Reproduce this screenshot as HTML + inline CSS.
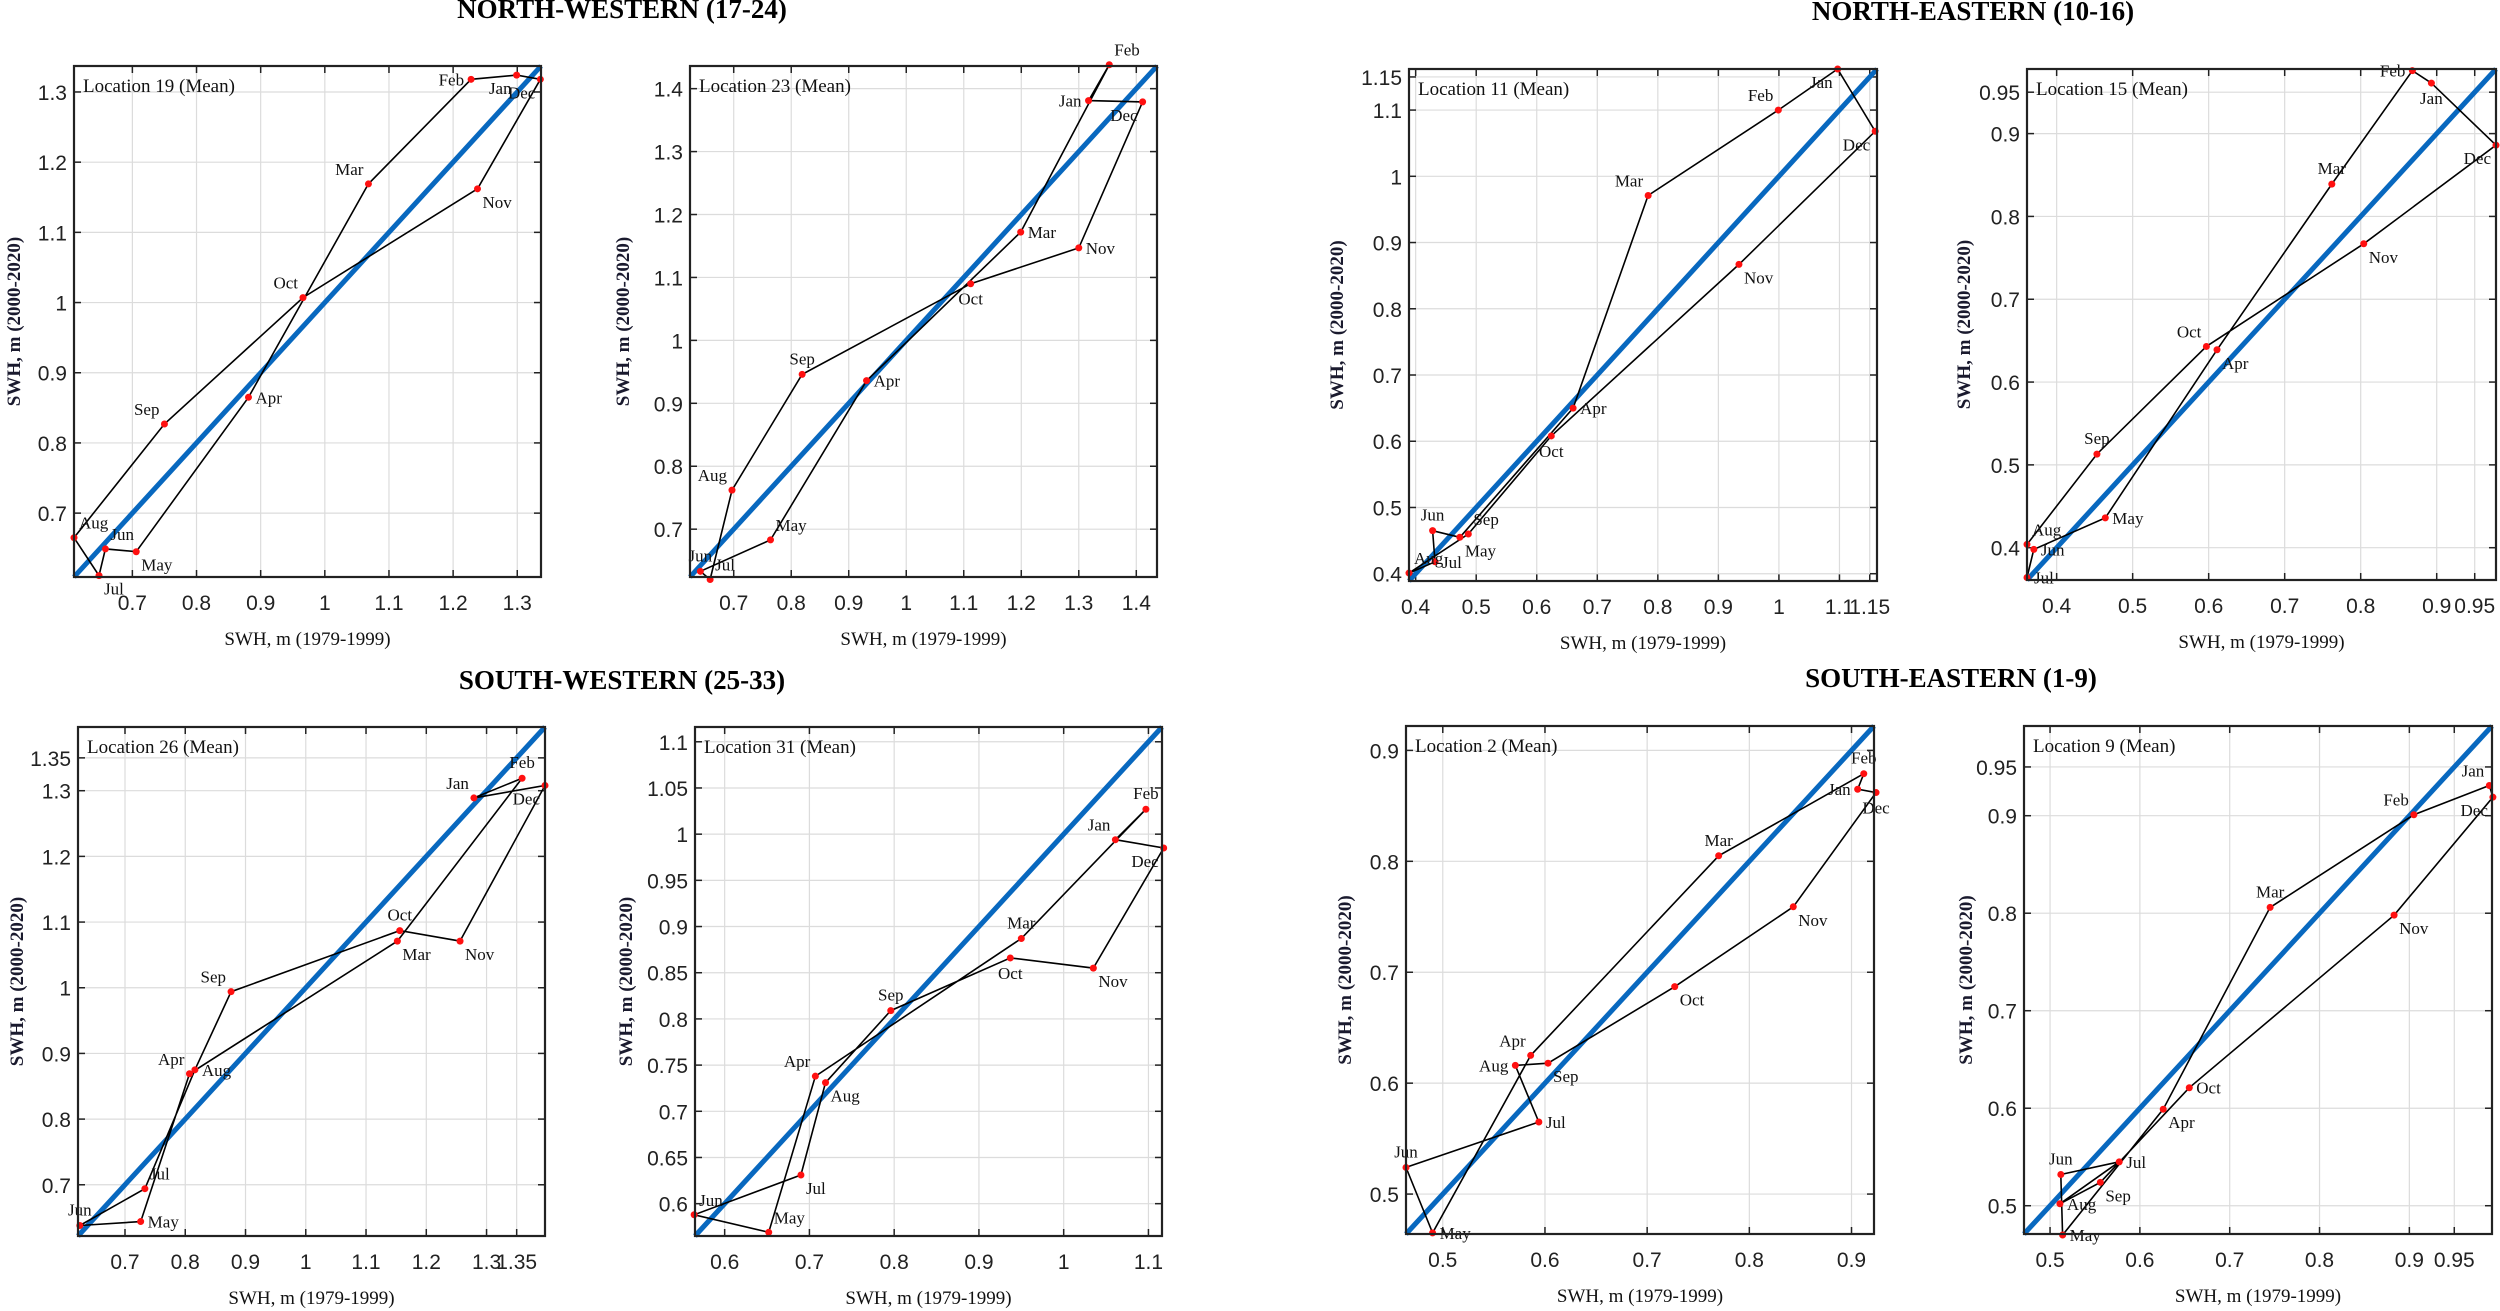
<!DOCTYPE html>
<html><head><meta charset="utf-8"><style>
html,body{margin:0;padding:0;background:#fff;}
svg{display:block;}
.tk{font-family:"Liberation Sans",sans-serif;font-size:21px;fill:#222;}
.mo{font-family:"Liberation Serif",serif;font-size:17px;fill:#111;}
.lc{font-family:"Liberation Serif",serif;font-size:19px;fill:#111;}
.xl{font-family:"Liberation Serif",serif;font-size:19px;fill:#111;}
.yl{font-family:"Liberation Serif",serif;font-size:19px;font-weight:bold;fill:#1a1a2e;}
.tt{font-family:"Liberation Serif",serif;font-size:27px;font-weight:bold;fill:#000;}
</style></head><body>
<svg id="fig" width="2500" height="1311" viewBox="0 0 2500 1311" xmlns="http://www.w3.org/2000/svg">
<text class="tt" x="622" y="18" text-anchor="middle">NORTH-WESTERN (17-24)</text>
<text class="tt" x="1973" y="20" text-anchor="middle">NORTH-EASTERN (10-16)</text>
<text class="tt" x="622" y="689" text-anchor="middle">SOUTH-WESTERN (25-33)</text>
<text class="tt" x="1951" y="687" text-anchor="middle">SOUTH-EASTERN (1-9)</text>
</svg>
<script>
const months = ['Jan','Feb','Mar','Apr','May','Jun','Jul','Aug','Sep','Oct','Nov','Dec'];

const loc19X = [1.299,1.228,1.068,0.881,0.706,0.658,0.648,0.609,0.750,0.966,1.238,1.336];
const loc19Y = [1.324,1.318,1.169,0.865,0.645,0.649,0.611,0.665,0.827,1.007,1.162,1.318];
const loc23X = [1.317,1.353,1.199,0.931,0.764,0.642,0.659,0.697,0.819,1.112,1.300,1.411];
const loc23Y = [1.381,1.438,1.172,0.936,0.683,0.633,0.620,0.762,0.946,1.090,1.147,1.379];
const loc11X = [1.097,0.999,0.784,0.660,0.473,0.428,0.432,0.389,0.487,0.624,0.934,1.159];
const loc11Y = [1.162,1.100,0.971,0.650,0.455,0.465,0.418,0.401,0.460,0.608,0.867,1.068];
const loc15X = [0.893,0.868,0.762,0.611,0.464,0.370,0.361,0.361,0.453,0.597,0.804,0.978];
const loc15Y = [0.961,0.976,0.839,0.639,0.436,0.398,0.364,0.404,0.513,0.643,0.767,0.886];
const loc26X = [1.279,1.359,1.152,0.807,0.726,0.625,0.733,0.816,0.876,1.156,1.256,1.397];
const loc26Y = [1.289,1.319,1.071,0.869,0.644,0.638,0.694,0.875,0.994,1.087,1.071,1.308];
const loc31X = [1.061,1.097,0.950,0.707,0.652,0.564,0.690,0.719,0.796,0.937,1.035,1.118];
const loc31Y = [0.994,1.027,0.887,0.738,0.569,0.588,0.631,0.731,0.809,0.866,0.855,0.985];
const loc2X  = [0.906,0.912,0.770,0.586,0.490,0.464,0.594,0.571,0.603,0.727,0.843,0.924];
const loc2Y  = [0.865,0.879,0.805,0.625,0.465,0.524,0.565,0.616,0.618,0.687,0.759,0.862];
const loc9X  = [0.989,0.905,0.745,0.626,0.514,0.512,0.577,0.511,0.556,0.655,0.883,0.993];
const loc9Y  = [0.931,0.901,0.806,0.599,0.470,0.532,0.545,0.502,0.524,0.621,0.798,0.919];

const ticks19 = [0.7,0.8,0.9,1,1.1,1.2,1.3];
const ticks23 = [0.7,0.8,0.9,1,1.1,1.2,1.3,1.4];
const ticks11 = [0.4,0.5,0.6,0.7,0.8,0.9,1,1.1,1.15];
const ticks15 = [0.4,0.5,0.6,0.7,0.8,0.9,0.95];
const ticks26 = [0.7,0.8,0.9,1,1.1,1.2,1.3,1.35];
const ticks31X = [0.6,0.7,0.8,0.9,1,1.1];
const ticks31Y = [0.6,0.65,0.7,0.75,0.8,0.85,0.9,0.95,1,1.05,1.1];
const ticks2 = [0.5,0.6,0.7,0.8,0.9];
const ticks9 = [0.5,0.6,0.7,0.8,0.9,0.95];

const panels = [
 {name:'location-19',label:'Location 19 (Mean)',box:[74,66,541,577],lo:0.609,hi:1.337,X:loc19X,Y:loc19Y,xt:ticks19,yt:ticks19,ylx:14,
  lab:['lb','L','la','R','rb','ra','rb','ra','la','la','rb','lb']},
 {name:'location-23',label:'Location 23 (Mean)',box:[690,66,1157,577],lo:0.624,hi:1.436,X:loc23X,Y:loc23Y,xt:ticks23,yt:ticks23,ylx:623,
  lab:['L','ra','R','R','ra','a','ra','la','a','b','R','lb']},
 {name:'location-11',label:'Location 11 (Mean)',box:[1409,69,1877,581],lo:0.389,hi:1.162,X:loc11X,Y:loc11Y,xt:ticks11,yt:ticks11,ylx:1337,
  lab:['lb','la','la','R','rb','a','R','ra','ra','b','rb','lb']},
 {name:'location-15',label:'Location 15 (Mean)',box:[2027,69,2496,580],lo:0.361,hi:0.978,X:loc15X,Y:loc15Y,xt:ticks15,yt:ticks15,ylx:1964,
  lab:['b','L','a','rb','R','R','R','ra','a','la','rb','lb']},
 {name:'location-26',label:'Location 26 (Mean)',box:[78,727,545,1236],lo:0.622,hi:1.397,X:loc26X,Y:loc26Y,xt:ticks26,yt:ticks26,ylx:17,
  lab:['la','a','rb','la','R','a','ra','R','la','a','rb','lb']},
 {name:'location-31',label:'Location 31 (Mean)',box:[695,727,1162,1236],lo:0.565,hi:1.116,X:loc31X,Y:loc31Y,xt:ticks31X,yt:ticks31Y,ylx:626,
  lab:['la','a','a','la','ra','ra','rb','rb','a','b','rb','lb']},
 {name:'location-2',label:'Location 2 (Mean)',box:[1406,726,1874,1234],lo:0.464,hi:0.922,X:loc2X,Y:loc2Y,xt:ticks2,yt:ticks2,ylx:1345,
  lab:['L','a','a','la','R','a','R','L','rb','rb','rb','b']},
 {name:'location-9',label:'Location 9 (Mean)',box:[2024,726,2492,1234],lo:0.471,hi:0.992,X:loc9X,Y:loc9Y,xt:ticks9,yt:ticks9,ylx:1966,
  lab:['la','la','a','rb','R','a','R','R','rb','R','rb','lb']}
];

const NS='http://www.w3.org/2000/svg';
const svg=document.getElementById('fig');
function mk(tag,attrs,parent){const e=document.createElementNS(NS,tag);for(const k in attrs)e.setAttribute(k,attrs[k]);(parent||svg).appendChild(e);return e;}
const OFF={la:[-5,-9,'end'],lb:[-5,19,'end'],ra:[5,-9,'start'],rb:[5,19,'start'],L:[-7,6,'end'],R:[7,6,'start'],a:[0,-10,'middle'],b:[0,21,'middle']};

panels.forEach(p=>{
  const [x0,y0,x1,y1]=p.box;
  const sx=v=>x0+(v-p.lo)/(p.hi-p.lo)*(x1-x0);
  const sy=v=>y1-(v-p.lo)/(p.hi-p.lo)*(y1-y0);
  const g=mk('g',{});
  
  
  mk('rect',{x:x0,y:y0,width:x1-x0,height:y1-y0,fill:'#fff'},g);
  p.xt.forEach(v=>{const x=sx(v);
    const gl=mk('line',{x1:x,y1:y0,x2:x,y2:y1,stroke:'#dcdcdc','stroke-width':1.2},g);
    
    mk('line',{x1:x,y1:y1,x2:x,y2:y1-7,stroke:'#222','stroke-width':1.5},g);
    mk('line',{x1:x,y1:y0,x2:x,y2:y0+7,stroke:'#222','stroke-width':1.5},g);
    const t=mk('text',{x:x,y:y1+33,'text-anchor':'middle',class:'tk'},g);t.textContent=String(v);
    
  });
  p.yt.forEach(v=>{const y=sy(v);
    const gl=mk('line',{x1:x0,y1:y,x2:x1,y2:y,stroke:'#dcdcdc','stroke-width':1.2},g);
    
    mk('line',{x1:x0,y1:y,x2:x0+7,y2:y,stroke:'#222','stroke-width':1.5},g);
    mk('line',{x1:x1,y1:y,x2:x1-7,y2:y,stroke:'#222','stroke-width':1.5},g);
    const t=mk('text',{x:x0-7,y:y+8,'text-anchor':'end',class:'tk'},g);t.textContent=String(v);
    
  });
  const diag=mk('line',{x1:sx(p.lo),y1:sy(p.lo),x2:sx(p.hi),y2:sy(p.hi),stroke:'#0868bf','stroke-width':5},g);
  
  let d='';p.X.forEach((v,i)=>{d+=(i?'L':'M')+sx(v).toFixed(1)+' '+sy(p.Y[i]).toFixed(1)+' ';});d+='Z';
  const loop=mk('path',{d:d,fill:'none',stroke:'#000','stroke-width':1.6},g);
  
  p.X.forEach((v,i)=>{
    const cx=sx(v),cy=sy(p.Y[i]);
    const c=mk('circle',{cx:cx,cy:cy,r:3.5,fill:'#ff1010'},g);
    
    
    const o=OFF[p.lab[i]];
    const t=mk('text',{x:cx+o[0],y:cy+o[1],'text-anchor':o[2],class:'mo'},g);t.textContent=months[i];
    
  });
  mk('rect',{x:x0,y:y0,width:x1-x0,height:y1-y0,fill:'none',stroke:'#222','stroke-width':2.2},g);
  const lt=mk('text',{x:x0+9,y:y0+26,class:'lc'},g);lt.textContent=p.label;
  
  const xl=mk('text',{x:(x0+x1)/2,y:y1+68,'text-anchor':'middle',class:'xl'},g);xl.textContent='SWH, m (1979-1999)';
  
  const cy=(y0+y1)/2;
  const yl=mk('text',{x:p.ylx,y:cy,'text-anchor':'middle',class:'yl',transform:'rotate(-90 '+p.ylx+' '+cy+')',dy:'6'},g);yl.textContent='SWH, m (2000-2020)';
  
});
</script>
</body></html>
